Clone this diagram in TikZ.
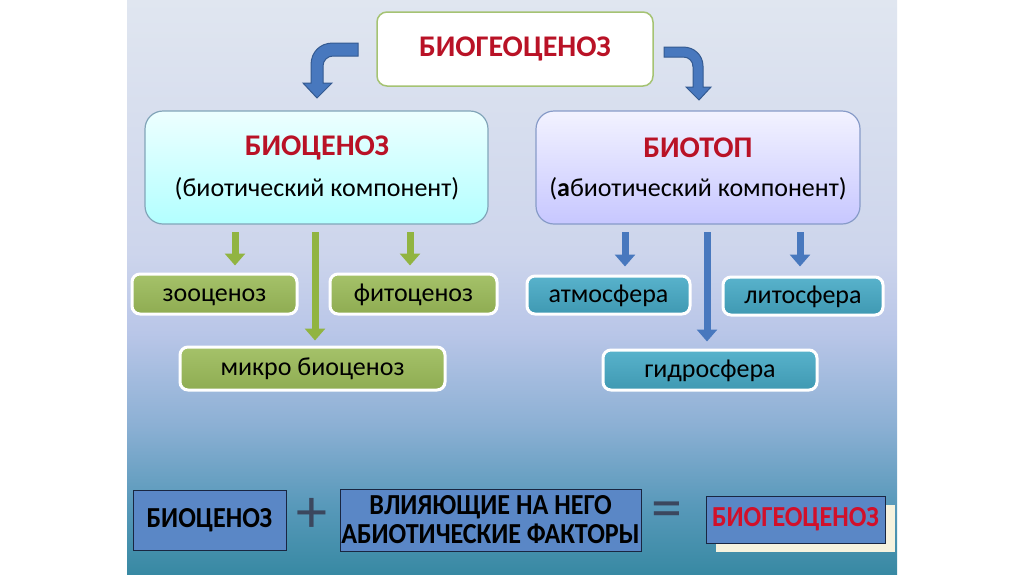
\documentclass[tikz,border=0pt]{standalone}
\usepackage{fontspec}
\setmainfont{Carlito}
\newfontfamily\narrowfont[FakeStretch=0.9]{Carlito}
\usetikzlibrary{arrows.meta,positioning}

\definecolor{titlered}{RGB}{185,18,38}
\definecolor{brightred}{RGB}{210,16,42}
\definecolor{topline}{RGB}{165,195,115}
\definecolor{greenbox}{RGB}{155,187,89}
\definecolor{greenarrow}{RGB}{145,180,65}
\definecolor{tealbox}{RGB}{70,170,198}
\definecolor{bluearrow}{RGB}{72,120,190}
\definecolor{blueline}{RGB}{52,90,145}
\definecolor{slateblue}{RGB}{90,135,198}
\definecolor{darkline}{RGB}{25,38,65}
\definecolor{cyanline}{RGB}{130,165,185}
\definecolor{lavline}{RGB}{135,155,200}
\definecolor{cream}{RGB}{246,242,222}
\definecolor{bga}{RGB}{224,230,240}
\definecolor{bgb}{RGB}{205,213,236}
\definecolor{bgc}{RGB}{185,198,232}
\definecolor{bgd}{RGB}{140,176,212}
\definecolor{bge}{RGB}{88,153,186}
\definecolor{bgf}{RGB}{56,137,163}

% slide background, bottom to top
\pgfdeclareverticalshading{slidebg}{100bp}{
  color(0bp)=(bgf); color(25bp)=(bgf); color(31bp)=(bge);
  color(38bp)=(bgd); color(46bp)=(bgc); color(53bp)=(bgb);
  color(75bp)=(bga); color(100bp)=(bga)}

\begin{document}
\begin{tikzpicture}[x=1pt,y=-1pt,
  topbox/.style={draw=topline,line width=1.5pt,fill=white,rounded corners=10pt,
    minimum width=276pt,minimum height=74pt,inner sep=0pt},
  bigbox/.style={line width=1.2pt,rounded corners=18pt,minimum height=113pt,inner sep=0pt},
  titletext/.style={text=titlered,font=\fontsize{30}{36}\selectfont\bfseries},
  subtext/.style={font=\fontsize{26}{30}\selectfont},
  greenrect/.style={draw=white,line width=3pt,rounded corners=8pt,
    top color=greenbox!90!white,bottom color=greenbox!92!black,
    minimum height=40pt,inner sep=0pt,text height=14pt,text depth=0pt,
    font=\fontsize{26}{30}\selectfont},
  tealrect/.style={draw=white,line width=3pt,rounded corners=8pt,
    top color=tealbox!90!white,bottom color=tealbox!90!black,
    minimum height=38pt,inner sep=0pt,text height=14pt,text depth=0pt,
    font=\fontsize{26}{30}\selectfont},
  garrow/.style={line width=7pt,draw=greenarrow,-{Triangle[width=20pt,length=12pt]}},
  barrow/.style={line width=7pt,draw=bluearrow,-{Triangle[width=20pt,length=12pt]}},
  sumbox/.style={draw=darkline,line width=1pt,fill=slateblue,inner sep=0pt,
    align=center,font=\narrowfont\fontsize{29}{29}\selectfont\bfseries},
  sign/.style={text=darkline!85,font=\fontsize{62}{62}\selectfont}]

\useasboundingbox (0,0) rectangle (1024,574);
\fill[white] (0,0) rectangle (1024,574);
\shade[shading=slidebg] (127,0) rectangle (897,574);

% top of the scheme
\node[topbox] (bgc) at (515,49) {};
\node[titletext] at (bgc) {БИОГЕОЦЕНОЗ};

% curved block arrows
\filldraw[fill=bluearrow,draw=blueline,line width=1pt]
  (358,43) -- (333,43) .. controls (320,43) and (311,52) .. (311,65) -- (311,83)
  -- (303,83) -- (317,98) -- (332,83) -- (323,83) -- (323,66)
  .. controls (323,60) and (328,56) .. (333,56) -- (358,56) -- cycle;
\filldraw[fill=bluearrow,draw=blueline,line width=1pt]
  (664,47) -- (683,47) .. controls (694,47) and (703,55) .. (703,66) -- (703,87)
  -- (711,87) -- (699,100) -- (686,87) -- (693,87) -- (693,67)
  .. controls (693,61) and (689,57) .. (683,57) -- (664,57) -- cycle;

% two components
\node[bigbox,draw=cyanline,top color=cyan!7!white,bottom color=cyan!30!white,
  minimum width=343pt] (bioc) at (316.5,167.5) {};
\node[titletext] (bioctitle) at (317,148) {БИОЦЕНОЗ};
\node[subtext] (biocsub) at (317,189) {(биотический компонент)};

\node[bigbox,draw=lavline,top color=blue!5!white,bottom color=blue!22!white,
  minimum width=324pt] (biot) at (698,167.5) {};
\node[titletext] (biottitle) at (698,148) {БИОТОП};
\node[subtext] (biotsub) at (698,189) {(\textbf{а}биотический компонент)};

% parts of the biocenosis
\node[greenrect,minimum width=165pt] (zoo) at (214.5,294) {зооценоз};
\node[greenrect,minimum width=167pt] (fito) at (413.5,294) {фитоценоз};
\node[greenrect,minimum width=265pt,minimum height=43pt] (mikro) at (312.5,368.5) {микро биоценоз};

% parts of the biotope
\node[tealrect,minimum width=163pt] (atmo) at (608.5,295) {атмосфера};
\node[tealrect,minimum width=160pt] (lito) at (803,296) {литосфера};
\node[tealrect,minimum width=214pt,minimum height=40pt] (gidro) at (710,370) {гидросфера};

\coordinate (g1) at (235,232);
\coordinate (g2) at (315,232);
\coordinate (g3) at (410,232);
\draw[garrow,shorten >=7pt] (g1) -- (g1 |- zoo.north);
\draw[garrow,shorten >=5pt] (g2) -- (g2 |- mikro.north);
\draw[garrow,shorten >=7pt] (g3) -- (g3 |- fito.north);

\coordinate (b1) at (625,232);
\coordinate (b2) at (707,232);
\coordinate (b3) at (800,232);
\draw[barrow,shorten >=8pt] (b1) -- (b1 |- atmo.north);
\draw[barrow,shorten >=7pt] (b2) -- (b2 |- gidro.north);
\draw[barrow,shorten >=9pt] (b3) -- (b3 |- lito.north);

% formula at the bottom
\node[sumbox,minimum width=153pt,minimum height=60pt] (sum1) at (209.5,520) {БИОЦЕНОЗ};
\node[sign] (plus) at (312,515) {+};
\node[sumbox,minimum width=301pt,minimum height=62pt] (sum2) at (490.5,520)
  {ВЛИЯЮЩИЕ НА НЕГО\\АБИОТИЧЕСКИЕ ФАКТОРЫ};
\node[sign] (equal) at (667,515) {=};
\fill[cream] (716,505) rectangle (895,552);
\node[sumbox,minimum width=179pt,minimum height=47pt,text=brightred] (sum3) at (795.5,519.5) {БИОГЕОЦЕНОЗ};
\end{tikzpicture}
\end{document}
